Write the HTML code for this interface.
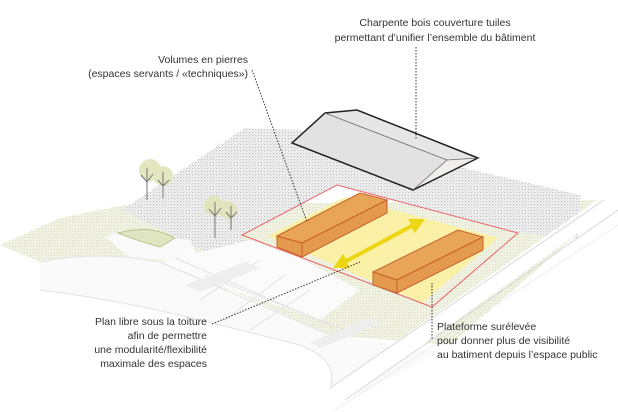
<!DOCTYPE html>
<html><head><meta charset="utf-8"><style>
html,body{margin:0;padding:0;background:#fff}
svg{display:block}
text{font-family:"Liberation Sans",sans-serif;font-size:10.5px;fill:#333}
</style></head><body>
<svg width="618" height="412" viewBox="0 0 618 412" xmlns="http://www.w3.org/2000/svg">
<defs>
<pattern id="dots" width="3" height="3" patternUnits="userSpaceOnUse">
<rect width="3" height="3" fill="#f7f7f7"/>
<circle cx="0.8" cy="0.8" r="0.6" fill="#999"/><circle cx="2.3" cy="2.2" r="0.45" fill="#b5b5b5"/>
</pattern>
<pattern id="gdots" width="3" height="3" patternUnits="userSpaceOnUse">
<rect width="3" height="3" fill="#f7f8ec"/>
<circle cx="0.8" cy="0.8" r="0.6" fill="#c4c8a0"/><circle cx="2.3" cy="2.2" r="0.5" fill="#d3d6b5"/>
</pattern>
</defs>
<polygon points="0,245 60,218 125,205 600,200 580,232 450,345 330,335 230,290 100,272 40,262" fill="url(#gdots)"/>
<polygon points="122,210 245,128 300,130 580,195 578,238 520,233 337,185 242,235 245,272" fill="url(#dots)"/>
<path d="M40,262 Q100,250 160,262 L250,300 L330,335 L440,352 L360,395 L330,385 Q340,360 300,345 L200,320 Q120,300 40,290 Z" fill="#fafafa"/>
<polygon points="105,237 120,231 190,240 200,262 130,258" fill="#fafafa"/>
<polygon points="160,262 250,240 300,258 360,290 320,320 230,290" fill="#fbfbfb"/>
<g stroke="#e2e2e2" stroke-width="1" fill="none">
<path d="M40,262 Q100,250 160,262 L330,335"/>
<path d="M40,290 Q120,300 200,320 L300,345 Q340,360 330,390"/>
<path d="M200,300 L260,260 M225,320 L285,275 M250,330 L310,290"/>
<path d="M175,258 L330,325 M205,275 L345,330"/>
</g>
<g fill="#eeeeee">
<polygon points="185,285 245,262 260,268 200,292"/>
<polygon points="310,342 370,318 380,324 320,348"/>
</g>
<polygon points="330,388 600,198 618,205 345,400" fill="#fff"/>
<path d="M330,388 L604,200 M345,400 L618,210" stroke="#d8d8d8" stroke-width="1" fill="none"/>
<path d="M335,410 L618,225" stroke="#eee" stroke-width="1"/>
<path d="M118,233 Q150,224 175,238 L160,247 Q135,240 118,233Z" fill="#dfe5c0" stroke="#b9c28f"/>
<g fill="#e0e5ba" opacity="0.9"><circle cx="150" cy="170" r="11"/><circle cx="163" cy="176" r="10"/><circle cx="214" cy="206" r="10"/><circle cx="228" cy="210" r="9"/></g>
<g stroke="#777" stroke-width="1" fill="none"><path d="M147,168 V200 M141,175 L147,182 L153,174 M163,172 V198 M158,180 L163,186 L169,180 M215,202 V238 M209,209 L215,216 L221,208 M231,206 V230 M226,212 L231,218 L237,212"/></g>
<polygon points="268,236 345,197 498,238 422,303" fill="#faf1a6"/>
<polygon points="242,235 337,185 518,233 432,307" fill="none" stroke="#e8646a" stroke-width="1"/>
<polygon points="277,236 360,193 387,200 302,243" fill="#e8a457" stroke="#c8602a"/>
<polygon points="277,236 302,243 302,257 277,247" fill="#e39a4e" stroke="#c8602a"/>
<polygon points="302,243 387,200 387,213 302,257" fill="#e39a4e" stroke="#c8602a"/>
<polygon points="373,272 458,230 483,237 397,280" fill="#e8a457" stroke="#c8602a"/>
<polygon points="373,272 397,280 397,293 373,285" fill="#e39a4e" stroke="#c8602a"/>
<polygon points="397,280 483,237 483,250 397,293" fill="#e39a4e" stroke="#c8602a"/>
<polygon points="425,219 408,219 411,224 346,259 343,254 333,268 350,268 347,263 412,228 415,233" fill="#ecd512"/>
<polygon points="325,113 357,110 478,158 447,160" fill="#e6e6e6"/>
<polygon points="292,143 325,113 447,160 413,190" fill="#e2e2e2"/>
<polygon points="447,160 478,158 413,190" fill="#f2eeee"/>
<polygon points="292,143 325,113 357,110 478,158 413,190" fill="none" stroke="#222" stroke-width="1.5"/>
<path d="M325,113 L447,160 L478,158 M447,160 L413,190" stroke="#666" stroke-width="0.8" fill="none"/>
<g stroke="#333" stroke-width="1" stroke-dasharray="1.5,1.5" fill="none">
<path d="M252,70 L307,222"/><path d="M416,47 V140"/><path d="M212,324 L360,262"/><path d="M432,283 V340"/>
</g>
<text x="435" y="26" text-anchor="middle">Charpente bois couverture tuiles</text>
<text x="435" y="41" text-anchor="middle">permettant d’unifier l’ensemble du bâtiment</text>
<text x="248" y="63" text-anchor="end">Volumes en pierres</text>
<text x="248" y="77" text-anchor="end">(espaces servants / «techniques»)</text>
<text x="207" y="325" text-anchor="end">Plan libre sous la toiture</text>
<text x="207" y="339" text-anchor="end">afin de permettre</text>
<text x="207" y="353" text-anchor="end">une modularité/flexibilité</text>
<text x="207" y="367" text-anchor="end">maximale des espaces</text>
<text x="437" y="330">Plateforme surélevée</text>
<text x="437" y="344">pour donner plus de visibilité</text>
<text x="437" y="358">au batiment depuis l’espace public</text>
</svg>
</body></html>
